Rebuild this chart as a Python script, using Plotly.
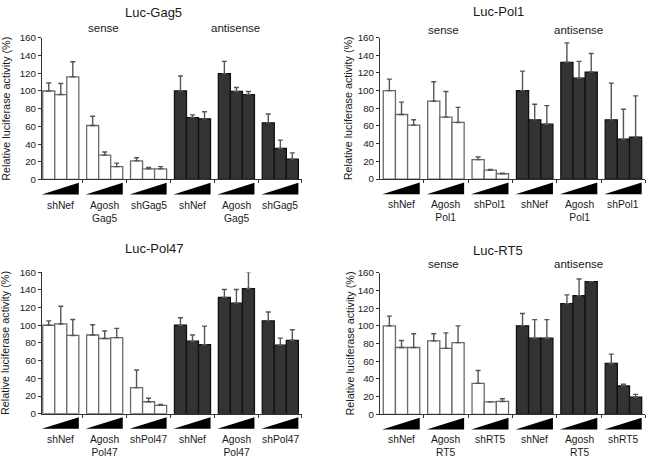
import plotly.graph_objects as go

W, H = 647, 460

# ---------------- data ----------------
titles = ["Luc-Gag5", "Luc-Pol1", "Luc-Pol47", "Luc-RT5"]
show_sense_labels = [True, True, False, True]

labels_gag5 = ["shNef", "Agosh<br>Gag5", "shGag5", "shNef", "Agosh<br>Gag5", "shGag5"]
labels_pol1 = ["shNef", "Agosh<br>Pol1", "shPol1", "shNef", "Agosh<br>Pol1", "shPol1"]
labels_pol47 = ["shNef", "Agosh<br>Pol47", "shPol47", "shNef", "Agosh<br>Pol47", "shPol47"]
labels_rt5 = ["shNef", "Agosh<br>RT5", "shRT5", "shNef", "Agosh<br>RT5", "shRT5"]

vals_gag5 = [100, 96, 116, 61, 27.5, 14.5, 21, 12, 12,
             100, 70, 68.5, 119.5, 99.5, 96, 64, 35, 23]
errs_gag5 = [9, 12.5, 17, 10.5, 3.5, 4, 3.5, 1.5, 2.5,
             17, 3, 8, 14, 4.5, 3.5, 10, 9.5, 7]

vals_pol1 = [100, 73, 61, 88, 70, 64, 22, 10, 6,
             100, 67, 62, 132, 114, 121, 67, 45, 47.5]
errs_pol1 = [13, 14, 6, 22, 29, 17, 3, 1, 0.6,
             22, 17.5, 21, 22, 19, 21, 41.5, 34, 46.5]

vals_pol47 = [100, 101.5, 88.5, 89, 85, 86, 29.5, 13.5, 9.5,
              100, 82, 78, 131.5, 125, 141.5, 105, 77.5, 83]
errs_pol47 = [5, 20, 18, 11.5, 8.5, 10.5, 20, 4, 1,
              8.5, 7, 21, 9, 15.5, 19, 10, 8, 12]

vals_rt5 = [100, 75.5, 75.5, 83, 74.5, 81, 35, 14, 14.5,
            100, 86, 86, 125, 134, 150, 57.5, 32, 19.5]
errs_rt5 = [11, 8, 15.5, 8, 17.5, 19, 14.5, 0, 3,
            14, 21, 21, 10, 19, 0, 10.5, 2, 3]

y_ticks = [0, 20, 40, 60, 80, 100, 120, 140, 160]
y_title = "Relative luciferase activity (%)"

panels = [
    (labels_gag5, vals_gag5, errs_gag5),
    (labels_pol1, vals_pol1, errs_pol1),
    (labels_pol47, vals_pol47, errs_pol47),
    (labels_rt5, vals_rt5, errs_rt5),
]

# ---------------- layout geometry (pixels) ----------------
P = 3.65           # group period in bar widths
N_GROUPS = 6
x_end = (N_GROUPS - 1) * P + 3 + 0.3
geo = [
    dict(left=42, r0=-0.06, ppu=12.03, top=32.7, bot=177.7, ytitle_x=6, title_x=153, title_y=7,
         sense_x=103, anti_x=235.5, sense_y=23, lab_y=197),
    dict(left=380, r0=-0.27, ppu=12.16, top=32.3, bot=177.3, ytitle_x=348, title_x=498, title_y=6,
         sense_x=443, anti_x=578, sense_y=25, lab_y=196),
    dict(left=42, r0=-0.06, ppu=12.03, top=272.7, bot=417.7, ytitle_x=5, title_x=154, title_y=248,
         sense_x=103, anti_x=235.5, sense_y=263, lab_y=436),
    dict(left=380, r0=-0.27, ppu=12.16, top=273.3, bot=418.3, ytitle_x=350, title_x=498, title_y=250,
         sense_x=443, anti_x=578, sense_y=264, lab_y=436),
]

FONT = "Arial, Liberation Sans, sans-serif"
TXT = "#1a1a1a"
AX = "#333333"

fig = go.Figure()
layout = dict(
    width=W, height=H, margin=dict(l=0, r=0, t=0, b=0),
    paper_bgcolor="white", plot_bgcolor="white", showlegend=False,
    font=dict(family=FONT, color=TXT, size=10), barmode="overlay",
)
shapes = []
annotations = []

for k, (labels, vals, errs) in enumerate(panels):
    g = geo[k]
    sfx = "" if k == 0 else str(k + 1)
    xa, ya = "x" + sfx, "y" + sfx
    xs = [grp * P + i + 0.5 for grp in range(N_GROUPS) for i in range(3)]
    half = 9
    for part, (fill, line) in enumerate([("white", "#6a6a6a"), ("#333333", "#111111")]):
        sl = slice(part * half, (part + 1) * half)
        fig.add_trace(go.Bar(
            x=xs[sl], y=vals[sl], width=1.0, xaxis=xa, yaxis=ya,
            marker=dict(color=fill, line=dict(color=line, width=1.3)),
            error_y=dict(type="data", symmetric=False, array=errs[sl],
                         arrayminus=[0] * 9, color="#555555", thickness=1.4, width=2.5),
            hoverinfo="skip",
        ))
    r0, r1 = g["r0"], x_end
    xl = g["left"] / W
    xr = (g["left"] + (r1 - r0) * g["ppu"]) / W
    yb = 1 - g["bot"] / H
    yt = 1 - g["top"] / H
    boundaries = [grp * P + 3 + (P - 3) / 2 for grp in range(N_GROUPS - 1)] + [x_end]
    layout["xaxis" + sfx] = dict(
        domain=[xl, xr], range=[r0, r1], anchor=ya, showgrid=False, zeroline=False,
        showline=True, linecolor=AX, linewidth=1, ticks="outside", ticklen=3,
        tickcolor=AX, tickvals=boundaries, showticklabels=False, fixedrange=True,
    )
    layout["yaxis" + sfx] = dict(
        domain=[yb, yt], range=[0, 160], anchor=xa, showgrid=False, zeroline=False,
        showline=True, linecolor=AX, linewidth=1, ticks="outside", ticklen=3,
        tickcolor=AX, tickvals=y_ticks, tickfont=dict(size=9.8, color=TXT, family=FONT),
        fixedrange=True,
    )
    hgt = g["bot"] - g["top"]
    ty0 = -3.5 / hgt
    ty1 = -15.5 / hgt
    for grp in range(N_GROUPS):
        a = (grp * P - 0.08 - r0) / (r1 - r0)
        b = (grp * P + 3 - r0) / (r1 - r0)
        shapes.append(dict(
            type="path", xref=xa + " domain", yref=ya + " domain",
            path=f"M {a},{ty1} L {b},{ty1} L {b},{ty0} Z",
            fillcolor="black", line=dict(width=0),
        ))
        annotations.append(dict(
            text=labels[grp], xref=xa, yref="paper",
            x=grp * P + 1.5, y=1 - g["lab_y"] / H, xanchor="center", yanchor="top",
            showarrow=False, font=dict(size=10.3, color=TXT, family=FONT),
        ))
    annotations.append(dict(
        text=y_title, xref="paper", yref="paper", x=g["ytitle_x"] / W,
        y=(yb + yt) / 2, textangle=-90, xanchor="center", yanchor="middle",
        showarrow=False, font=dict(size=10.8, color=TXT, family=FONT),
    ))
    annotations.append(dict(
        text=titles[k], xref="paper", yref="paper", x=g["title_x"] / W,
        y=1 - g["title_y"] / H, xanchor="center", yanchor="middle",
        showarrow=False, font=dict(size=13, color=TXT, family=FONT),
    ))
    if show_sense_labels[k]:
        for txt, px in [("sense", g["sense_x"]), ("antisense", g["anti_x"])]:
            annotations.append(dict(
                text=txt, xref="paper", yref="paper", x=px / W,
                y=1 - g["sense_y"] / H, xanchor="center", yanchor="middle",
                showarrow=False, font=dict(size=11.5, color=TXT, family=FONT),
            ))

layout["shapes"] = shapes
layout["annotations"] = annotations
fig.update_layout(**layout)
fig.write_html(
    "out.html",
    config={"displayModeBar": False, "staticPlot": True},
    post_script="document.body.style.margin='0';document.body.style.overflow='hidden';",
)
